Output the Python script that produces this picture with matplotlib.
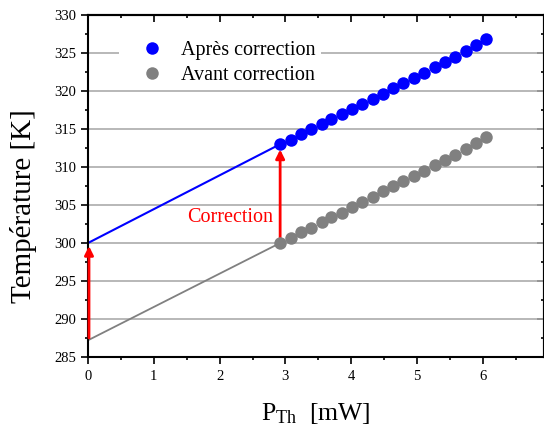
import numpy as np
import matplotlib
matplotlib.use("Agg")
import matplotlib.pyplot as plt
from matplotlib.ticker import MultipleLocator

plt.rcParams["font.family"] = ["Liberation Serif", "DejaVu Serif"]
plt.rcParams["mathtext.fontset"] = "custom"
plt.rcParams["mathtext.rm"] = "Liberation Serif"
plt.rcParams["mathtext.it"] = "Liberation Serif:italic"

# Puissance thermique [mW]
p_th = [2.92, 3.08, 3.23, 3.39, 3.55, 3.70, 3.86, 4.01, 4.17, 4.33, 4.48,
        4.64, 4.79, 4.95, 5.11, 5.27, 5.42, 5.58, 5.74, 5.90, 6.05]
# Temperature apres correction [K]
t_apres = [313.0, 313.6, 314.3, 315.0, 315.7, 316.3, 317.0, 317.6, 318.3,
           319.0, 319.6, 320.4, 321.0, 321.7, 322.4, 323.1, 323.8, 324.5,
           325.3, 326.1, 326.8]
# Temperature avant correction [K]
t_avant = [300.0, 300.7, 301.4, 302.0, 302.7, 303.4, 304.0, 304.7, 305.4,
           306.1, 306.8, 307.5, 308.1, 308.8, 309.5, 310.2, 310.9, 311.6,
           312.4, 313.1, 313.9]

# extrapolation vers P = 0
x_extrap = [0.0, 2.92]
t_apres_extrap = [300.0, 313.0]
t_avant_extrap = [287.2, 300.0]

# fleches de correction (x, y depart, y arrivee)
arrows = [(0.015, 287.5, 299.6), (2.92, 300.6, 312.3)]

fig = plt.figure(figsize=(5.44, 4.28), dpi=100)
ax = fig.add_axes([88 / 544, 1 - 357 / 428, 456 / 544, 342 / 428])

ax.yaxis.grid(True, color="#ababab", lw=1.2)
ax.set_axisbelow(True)

ax.plot(x_extrap, t_apres_extrap, color="#0000ff", lw=1.5, zorder=2)
ax.plot(x_extrap, t_avant_extrap, color="#808080", lw=1.3, zorder=2)

for x, y0, y1 in arrows:
    ax.annotate("", xy=(x, y1), xytext=(x, y0),
                arrowprops=dict(arrowstyle="-|>", color="#ff0000", lw=2,
                                mutation_scale=13, shrinkA=0, shrinkB=0),
                zorder=3)

ax.plot(p_th, t_apres, "o", color="#0000ff", ms=9, mew=0, zorder=4,
        label="Après correction")
ax.plot(p_th, t_avant, "o", color="#808080", ms=9, mew=0, zorder=4,
        label="Avant correction")

ax.text(2.82, 303.4, "Correction", color="#ff0000", fontsize=14.5,
        ha="right", va="center")

ax.set_xlim(0, 6.93)
ax.set_ylim(285, 330)
ax.xaxis.set_major_locator(MultipleLocator(1))
ax.xaxis.set_minor_locator(MultipleLocator(0.5))
ax.yaxis.set_major_locator(MultipleLocator(5))
ax.yaxis.set_minor_locator(MultipleLocator(2.5))

ax.tick_params(which="both", direction="out", width=1.2, labelsize=10.5,
               top=False, right=False)
ax.tick_params(which="major", length=5)
ax.tick_params(which="minor", length=2.5)
ax.tick_params(axis="x", pad=4.5)

for side in ("top", "right"):
    if side == "top":
        sec = ax.secondary_xaxis("top")
        sec.xaxis.set_major_locator(MultipleLocator(1))
        sec.xaxis.set_minor_locator(MultipleLocator(0.5))
        sec.tick_params(labeltop=False)
    else:
        sec = ax.secondary_yaxis("right")
        sec.yaxis.set_major_locator(MultipleLocator(5))
        sec.yaxis.set_minor_locator(MultipleLocator(2.5))
        sec.tick_params(labelright=False)
    sec.tick_params(which="both", direction="in", width=1.2)
    sec.tick_params(which="major", length=5)
    sec.tick_params(which="minor", length=2.5)
    for sp in sec.spines.values():
        sp.set_linewidth(1.5)

for sp in ax.spines.values():
    sp.set_linewidth(1.5)

ax.set_xlabel(r"$\mathregular{P_{Th}}$  [mW]", fontsize=18.5, labelpad=13)
ax.set_ylabel("Température [K]", fontsize=21)
ax.yaxis.set_label_coords(-0.112, 0.44)

leg = ax.legend(loc="upper left", bbox_to_anchor=(0.069, 0.939), fontsize=14.5,
                frameon=True, fancybox=False, edgecolor="none",
                facecolor="white", framealpha=1, handletextpad=0.11,
                borderpad=0.25, borderaxespad=0, labelspacing=0.3,
                handlelength=2.7)

fig.savefig("out.png", dpi=100)
